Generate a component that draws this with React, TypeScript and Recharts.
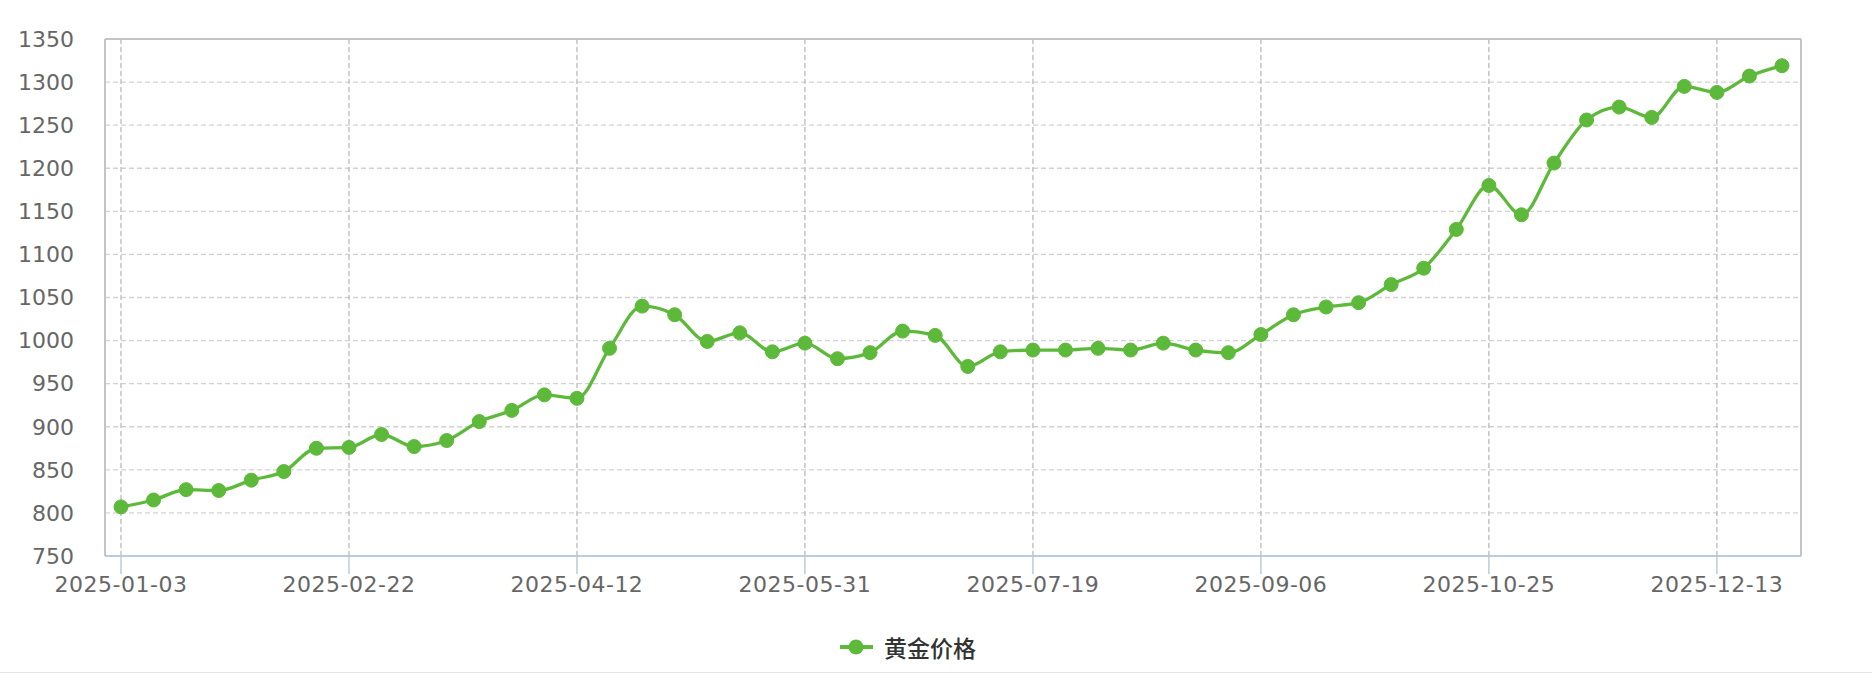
import { CartesianGrid, Legend, Line, LineChart, XAxis, YAxis } from 'recharts';

// weekly gold price
const dates = [
  '2025-01-03', '2025-01-11', '2025-01-18', '2025-01-25', '2025-02-01', '2025-02-08', '2025-02-15',
  '2025-02-22', '2025-03-01', '2025-03-08', '2025-03-15', '2025-03-22', '2025-03-29', '2025-04-05',
  '2025-04-12', '2025-04-19', '2025-04-26', '2025-05-03', '2025-05-10', '2025-05-17', '2025-05-24',
  '2025-05-31', '2025-06-07', '2025-06-14', '2025-06-21', '2025-06-28', '2025-07-05', '2025-07-12',
  '2025-07-19', '2025-07-26', '2025-08-02', '2025-08-09', '2025-08-16', '2025-08-23', '2025-08-30',
  '2025-09-06', '2025-09-13', '2025-09-20', '2025-09-27', '2025-10-04', '2025-10-11', '2025-10-18',
  '2025-10-25', '2025-11-01', '2025-11-08', '2025-11-15', '2025-11-22', '2025-11-29', '2025-12-06',
  '2025-12-13', '2025-12-20', '2025-12-27',
];

const prices = [
  807, 815, 827, 826, 838, 848, 875,
  876, 891, 877, 884, 906, 919, 937,
  933, 991, 1040, 1030, 999, 1009, 987,
  997, 979, 986, 1011, 1006, 970, 987,
  989, 989, 991, 989, 997, 989, 986,
  1007, 1030, 1039, 1044, 1065, 1084, 1129,
  1180, 1146, 1206, 1256, 1271, 1259, 1295,
  1288, 1307, 1319,
];

const xTicks = ['2025-01-03', '2025-02-22', '2025-04-12', '2025-05-31', '2025-07-19', '2025-09-06', '2025-10-25', '2025-12-13'];
const yTicks = [750, 800, 850, 900, 950, 1000, 1050, 1100, 1150, 1200, 1250, 1300, 1350];

const SERIES_NAME = '黄金价格';
const GREEN = '#5db93a';
const BORDER = '#c4c4c4';
const AXIS_BLUE = '#bccbdc';
const FONT = '"DejaVu Sans", sans-serif';

const data = dates.map((date, i) => ({ date, price: prices[i] }));

function LegendContent() {
  return (
    <div style={{ display: 'flex', alignItems: 'center', fontFamily: '"Noto Sans CJK SC", sans-serif' }}>
      <svg width={33} height={16} style={{ marginRight: 11 }}>
        <line x1={0} y1={8} x2={33} y2={8} stroke={GREEN} strokeWidth={4} />
        <circle cx={16} cy={8} r={7.5} fill={GREEN} />
      </svg>
      <span style={{ fontSize: 23, fontWeight: 500, color: '#333', lineHeight: '30px' }}>{SERIES_NAME}</span>
    </div>
  );
}

export default function App() {
  return (
    <div style={{ width: 1872, height: 672, borderBottom: '1px solid #e3e3e3', background: '#fff' }}>
      <style>{'body{margin:0}'}</style>
      <LineChart width={1872} height={672} data={data} margin={{ top: 38, right: 70, bottom: 76, left: 0 }}>
        <CartesianGrid vertical={false} stroke="#d2d2d2" strokeWidth={1.3} strokeDasharray="5 3" />
        <CartesianGrid horizontal={false} stroke="#bababa" strokeWidth={1.3} strokeDasharray="5 3" />
        <XAxis
          dataKey="date"
          ticks={xTicks}
          interval={0}
          padding={{ left: 16, right: 19 }}
          height={40}
          axisLine={{ stroke: AXIS_BLUE, strokeWidth: 2 }}
          tickLine={{ stroke: AXIS_BLUE, strokeWidth: 1.5 }}
          tickSize={18}
          tickMargin={2}
          tick={{ fill: '#666', fontSize: 22, fontFamily: FONT, letterSpacing: 0.5 }}
        />
        <XAxis
          xAxisId="top"
          orientation="top"
          dataKey="date"
          padding={{ left: 16, right: 19 }}
          height={1}
          tick={false}
          tickLine={false}
          axisLine={{ stroke: BORDER, strokeWidth: 2 }}
        />
        <YAxis
          domain={[750, 1350]}
          ticks={yTicks}
          interval={0}
          width={105}
          axisLine={{ stroke: BORDER, strokeWidth: 2 }}
          tickLine={false}
          tickSize={0}
          tickMargin={31}
          tick={{ fill: '#666', fontSize: 22, fontFamily: FONT }}
        />
        <YAxis
          yAxisId="right"
          orientation="right"
          domain={[750, 1350]}
          width={1}
          tick={false}
          tickLine={false}
          axisLine={{ stroke: BORDER, strokeWidth: 2 }}
        />
        <Legend
          layout="horizontal"
          verticalAlign="middle"
          align="center"
          content={<LegendContent />}
          wrapperStyle={{ left: 840, top: 632, width: 'auto' }}
        />
        <Line
          type="monotone"
          dataKey="price"
          name={SERIES_NAME}
          stroke={GREEN}
          strokeWidth={3.3}
          dot={{ r: 7, fill: GREEN, stroke: GREEN, strokeWidth: 1 }}
          activeDot={false}
          isAnimationActive={false}
        />
      </LineChart>
    </div>
  );
}
